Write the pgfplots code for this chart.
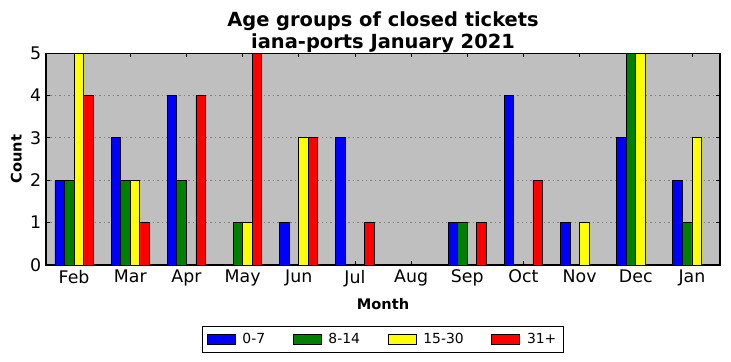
\documentclass[border=0pt]{standalone}
\usepackage{pgfplots}
\pgfplotsset{compat=1.18}
\usepackage{fontspec}
\setmainfont{DejaVu Sans}
\definecolor{bg}{RGB}{191,191,191}
\definecolor{mgreen}{RGB}{0,128,0}
\definecolor{mblue}{RGB}{0,0,255}
\definecolor{myellow}{RGB}{255,255,0}
\definecolor{mred}{RGB}{255,0,0}
\begin{document}
\begin{tikzpicture}
\useasboundingbox (0,0) rectangle (526.32pt,259.92pt);
\begin{axis}[
  at={(33.12pt,69.12pt)}, anchor=south west,
  scale only axis, width=485.3pt, height=152.6pt,
  ybar, bar width=0.17,
  xmin=-0.5, xmax=11.5, ymin=0, ymax=5,
  xtick={0,...,11},
  xticklabels={Feb,Mar,Apr,May,Jun,Jul,Aug,Sep,Oct,Nov,Dec,Jan},
  ytick={0,...,5},
  axis background/.style={fill=bg},
  ymajorgrids,
  grid style={black!50, dash pattern=on 1pt off 2.2pt, line width=0.5pt},
  tick align=inside, tick pos=both, major tick length=3pt,
  tick style={black, line width=0.6pt},
  axis line style={line width=0.8pt},
  ticklabel style={font=\fontsize{12.5}{14}\selectfont},
  /pgf/number format/assume math mode=true,
  title={Age groups of closed tickets\\iana-ports January 2021},
  title style={align=center, font=\fontsize{14}{16}\bfseries, yshift=-9.5pt},
  xlabel={Month}, ylabel={Count},
  label style={font=\fontsize{10.5}{12}\bfseries},
  xlabel style={yshift=-1.5pt},
  ylabel style={yshift=-1pt},
  legend columns=4,
  legend style={at={(0.5,-0.288)}, anchor=north, draw=black, fill=white,
    font=\fontsize{10}{12}\selectfont, line width=0.6pt,
    inner xsep=3pt, inner ysep=3pt,
    /tikz/every odd column/.append style={column sep=3pt},
    /tikz/every even column/.append style={column sep=18pt}},
  legend image code/.code={\draw[#1,draw=black,line width=0.6pt] (0pt,-3.6pt) rectangle (20pt,3.6pt);},
  every axis plot/.append style={draw=black, line width=0.6pt},
]
\addplot[fill=mblue, bar shift=-0.255] coordinates {(0,2) (1,3) (2,4) (3,0) (4,1) (5,3) (6,0) (7,1) (8,4) (9,1) (10,3) (11,2)};
\addplot[fill=mgreen, bar shift=-0.085] coordinates {(0,2) (1,2) (2,2) (3,1) (4,0) (5,0) (6,0) (7,1) (8,0) (9,0) (10,5) (11,1)};
\addplot[fill=myellow, bar shift=0.085] coordinates {(0,5) (1,2) (2,0) (3,1) (4,3) (5,0) (6,0) (7,0) (8,0) (9,1) (10,5) (11,3)};
\addplot[fill=mred, bar shift=0.255] coordinates {(0,4) (1,1) (2,4) (3,5) (4,3) (5,1) (6,0) (7,1) (8,2) (9,0) (10,0) (11,0)};
\legend{0-7,8-14,15-30,31+}
\end{axis}
\end{tikzpicture}
\end{document}
